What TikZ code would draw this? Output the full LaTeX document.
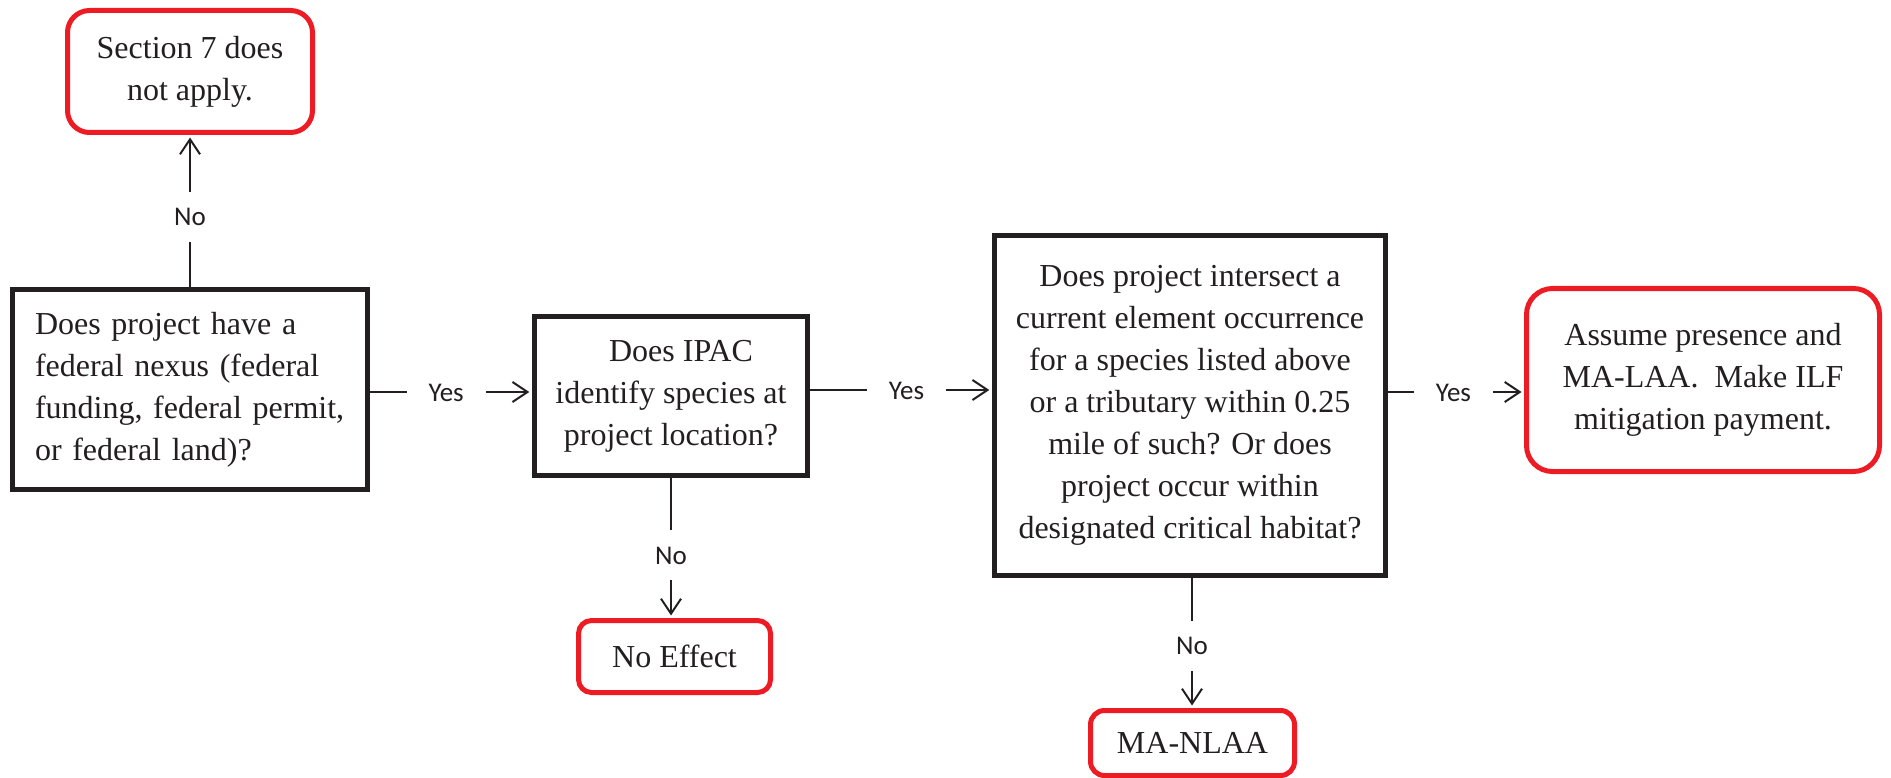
\documentclass[tikz,border=0pt]{standalone}
\usepackage{fontspec}
\setmainfont{Liberation Serif}
\newfontfamily\lblfont{Carlito}
\usetikzlibrary{arrows.meta}
\definecolor{ink}{HTML}{231F20}
\definecolor{redline}{HTML}{ED1C24}
\begin{document}
\begin{tikzpicture}[x=1pt,y=-1pt,
  qbox/.style={draw=ink, line width=5.5pt, rectangle, inner sep=0pt, text=ink,
    font=\fontsize{32}{42}\selectfont},
  rbox/.style={draw=redline, line width=5pt, rectangle, rounded corners=#1, inner sep=0pt,
    text=ink, align=center, font=\fontsize{32}{42}\selectfont},
  conn/.style={draw=ink, line width=2pt},
  arr/.style={conn, -{Straight Barb[length=15pt,width=20pt]}, shorten >=2.5pt},
  lbl/.style={fill=white, text=ink, font=\lblfont\fontsize{27}{32}\selectfont,
    inner xsep=22pt, inner ysep=16pt, text height=18pt, text depth=0pt}
]
\fill[white] (0,0) rectangle (1891,778);
\useasboundingbox (0,0) rectangle (1891,778);

% nodes
\node[rbox=22pt, minimum width=245pt, minimum height=122pt] (sec) at (190,71.5)
  {Section 7 does\\not apply.};
\node[qbox, minimum width=355pt, minimum height=200pt, text width=310pt,
  inner xsep=22.5pt, align=left] (b1) at (190,389.5)
  {Does project have a\\federal nexus (federal\\funding, federal permit,\\or federal land)?};
\node[qbox, align=center, minimum width=273pt, minimum height=159pt] (b2) at (671,396)
  {\hspace*{20pt}Does IPAC\\identify species at\\project location?};
\node[qbox, align=center, minimum width=391pt, minimum height=340pt] (b3) at (1190,405.5)
  {Does project intersect a\\current element occurrence\\for a species listed above\\or a tributary within 0.25\\mile of such? Or does\\project occur within\\designated critical habitat?};
\node[rbox=13pt, minimum width=192pt, minimum height=72pt] (ne) at (674.5,656.5)
  {No Effect};
\node[rbox=14pt, minimum width=204pt, minimum height=65pt] (ma) at (1192.5,743)
  {MA-NLAA};
\node[rbox=26pt, minimum width=353pt, minimum height=183pt] (b4) at (1703,380)
  {Assume presence and\\MA-LAA.\ \ Make ILF\\mitigation payment.};

% helper coordinates
\coordinate (ya) at (0,392);
\coordinate (yb) at (0,390);
\coordinate (xa) at (671,0);
\coordinate (xb) at (1192,0);

% connectors
\draw[arr] (b1.north) -- node[lbl, pos=0.46] {No} (sec.south);
\draw[arr] (b1.east |- ya) -- node[lbl, pos=0.47] {Yes} (b2.west |- ya);
\draw[arr] (b2.east |- yb) -- node[lbl, pos=0.53] {Yes} (b3.west |- yb);
\draw[arr] (b3.east |- ya) -- node[lbl, pos=0.48] {Yes} (b4.west |- ya);
\draw[arr] (b2.south -| xa) -- node[lbl, pos=0.55] {No} (xa |- ne.north);
\draw[arr] (b3.south -| xb) -- node[lbl, pos=0.52] {No} (xb |- ma.north);
\end{tikzpicture}
\end{document}
